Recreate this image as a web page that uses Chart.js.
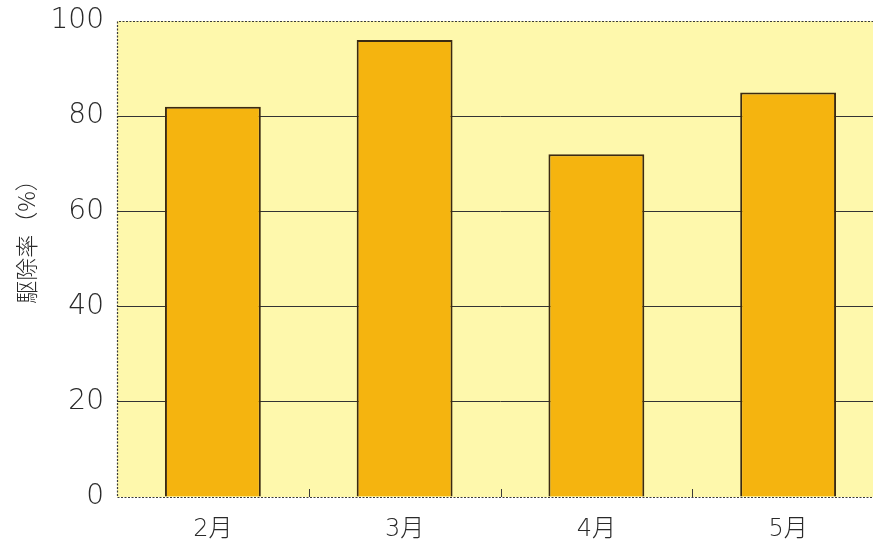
<!DOCTYPE html>
<html>
<head>
<meta charset="utf-8">
<script src="https://cdn.jsdelivr.net/npm/chart.js@4/dist/chart.umd.min.js"></script>
<style>
  html, body { margin: 0; padding: 0; background: #fff; overflow: hidden; }
  #wrap { width: 873px; height: 547px; overflow: hidden; }
</style>
</head>
<body>
<div id="wrap"><canvas id="chart" width="884" height="547"></canvas></div>
<script>
const months = ['2月', '3月', '4月', '5月'];
const removalRate = [82, 96, 72, 85];
const yTicks = [0, 20, 40, 60, 80, 100];

const fontFamily = '"DejaVu Sans", "Noto Sans CJK JP", sans-serif';
const titleFont = '"Noto Sans CJK JP", sans-serif';

// pale yellow plot background, dotted frame and small inward ticks between months
const plotFrame = {
  id: 'plotFrame',
  beforeDraw(chart) {
    const { ctx, chartArea: a } = chart;
    ctx.save();
    ctx.fillStyle = '#fef8ac';
    ctx.fillRect(a.left, a.top, a.right - a.left, a.bottom - a.top);
    ctx.restore();
  },
  afterDatasetsDraw(chart) {
    const { ctx, chartArea: a, scales } = chart;
    ctx.save();
    ctx.strokeStyle = '#3a3a3a';
    ctx.lineWidth = 1.2;
    ctx.setLineDash([2, 1.5]);
    ctx.beginPath();
    ctx.moveTo(a.right, a.top + 0.5);
    ctx.lineTo(a.left + 0.5, a.top + 0.5);
    ctx.lineTo(a.left + 0.5, a.bottom + 0.5);
    ctx.lineTo(a.right, a.bottom + 0.5);
    ctx.stroke();
    ctx.setLineDash([]);
    ctx.lineWidth = 1;
    ctx.beginPath();
    for (let i = 1; i < months.length; i++) {
      const x = Math.round((scales.x.getPixelForValue(i - 1) + scales.x.getPixelForValue(i)) / 2) + 0.5;
      ctx.moveTo(x, a.bottom);
      ctx.lineTo(x, a.bottom - 8);
    }
    ctx.stroke();
    ctx.restore();
  }
};

new Chart(document.getElementById('chart'), {
  type: 'bar',
  data: {
    labels: months,
    datasets: [{
      data: removalRate,
      backgroundColor: '#f5b40f',
      borderColor: '#3b2a12',
      borderWidth: 2,
      barPercentage: 0.5,
      categoryPercentage: 1.0
    }]
  },
  options: {
    responsive: false,
    animation: false,
    layout: { padding: { top: 21, left: 0, right: 0, bottom: 0 } },
    plugins: {
      legend: { display: false },
      tooltip: { enabled: false }
    },
    scales: {
      x: {
        grid: { display: false, drawTicks: false },
        border: { display: false },
        ticks: {
          padding: 18,
          color: '#2a2a2a',
          font: { family: fontFamily, size: 24, weight: 200 }
        },
        afterFit(scale) { scale.height = 50; }
      },
      y: {
        min: 0,
        max: 100,
        afterBuildTicks(scale) { scale.ticks = yTicks.map(v => ({ value: v })); },
        grid: {
          drawTicks: false,
          color: ctx => (ctx.tick && (ctx.tick.value === 100 || ctx.tick.value === 0)) ? 'rgba(0,0,0,0)' : '#333',
          lineWidth: 1
        },
        border: { display: false },
        ticks: {
          padding: 13,
          color: '#2a2a2a',
          font: { family: fontFamily, size: 28, weight: 200 }
        },
        title: {
          display: true,
          text: '\u3000\u3000駆除率（%）',
          color: '#2a2a2a',
          padding: { top: 12, bottom: 0 },
          font: { family: titleFont, size: 23, weight: 300 }
        },
        afterFit(scale) {
          scale.width = 117;
          scale.paddingTop = 0;
          scale.paddingBottom = 0;
        }
      }
    }
  },
  plugins: [plotFrame]
});
</script>
</body>
</html>
